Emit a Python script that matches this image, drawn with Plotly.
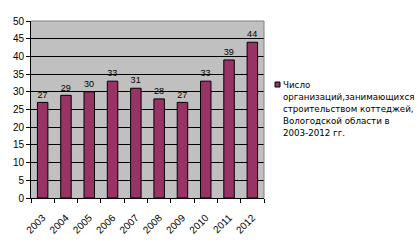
import plotly.graph_objects as go

years = ["2003", "2004", "2005", "2006", "2007", "2008", "2009", "2010", "2011", "2012"]
values = [27, 29, 30, 33, 31, 28, 27, 33, 39, 44]
series_name = "Число<br>организаций,занимающихся<br>строительством коттеджей,<br>Вологодской области в<br>2003-2012 гг."

font = "Liberation Sans, Arial, sans-serif"

fig = go.Figure()
fig.add_trace(go.Bar(
    x=years, y=values, name=series_name,
    marker=dict(color="#993366", line=dict(color="black", width=1)),
    width=0.45,
    text=[str(v) for v in values],
    textposition="outside",
    textfont=dict(family=font, size=10, color="black"),
    cliponaxis=False,
    showlegend=False,
))

fig.update_layout(
    width=419, height=246,
    margin=dict(l=31, r=155, t=21, b=48),
    paper_bgcolor="white",
    plot_bgcolor="#C0C0C0",
    font=dict(family=font, size=10, color="black"),
    xaxis=dict(
        showline=True, linecolor="black", linewidth=1,
        ticks="outside", ticklen=4, tickcolor="black", tickson="boundaries",
        tickangle=-45, tickfont=dict(size=10), ticklabelstandoff=9,
        showgrid=False, automargin=False,
    ),
    yaxis=dict(
        range=[0, 50], dtick=5,
        showline=True, linecolor="black", linewidth=1,
        ticks="outside", ticklen=4, tickcolor="black",
        showgrid=True, gridcolor="black", gridwidth=1,
        tickfont=dict(size=10),
        zeroline=False,
    ),
    bargap=0.55,
)

# plot area border (top/right) in gray
fig.add_shape(type="line", xref="paper", yref="paper", x0=0, x1=1, y0=1, y1=1,
              line=dict(color="#808080", width=1))
fig.add_shape(type="line", xref="paper", yref="paper", x0=1, x1=1, y0=0, y1=1,
              line=dict(color="#808080", width=1))

# legend drawn manually (plot area: x 31..264 px, y 21..198 px)
def px_x(px):
    return (px - 31) / 233.0

def px_y(py):
    return (198 - py) / 177.0

fig.add_shape(type="rect", xref="paper", yref="paper",
              x0=px_x(275), x1=px_x(280), y0=px_y(87), y1=px_y(82),
              fillcolor="#993366", line=dict(color="black", width=1))
for i, line in enumerate(series_name.split("<br>")):
    fig.add_annotation(xref="paper", yref="paper", x=px_x(281), y=px_y(85 + 12 * i),
                       xanchor="left", yanchor="middle", align="left",
                       showarrow=False, text=line,
                       font=dict(family="DejaVu Sans, sans-serif", size=8.7, color="black"))

fig.write_html("out.html")
